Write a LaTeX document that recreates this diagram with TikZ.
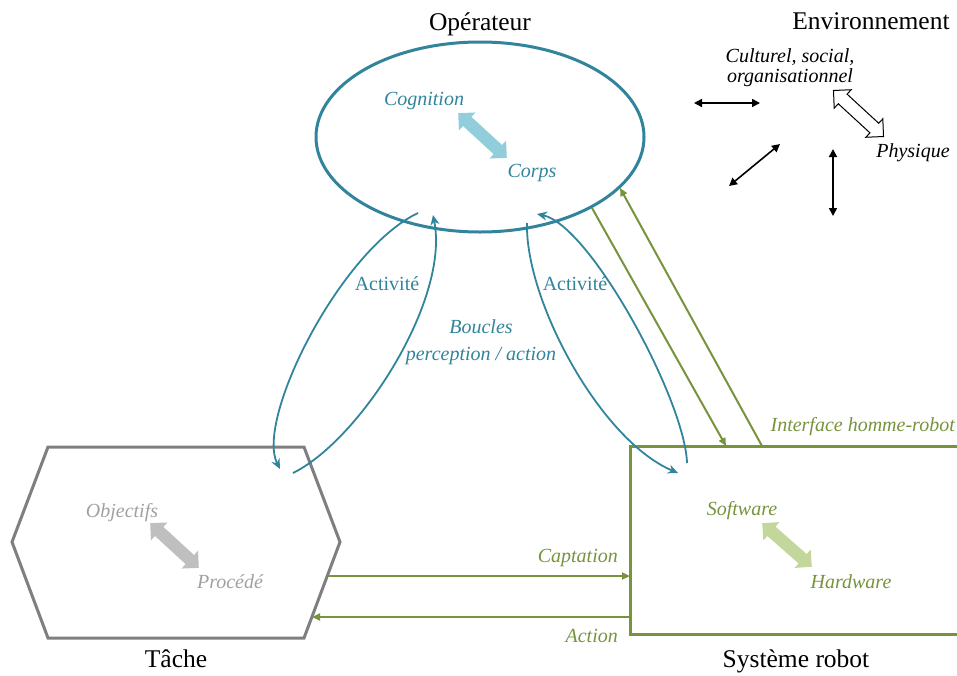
\documentclass[tikz,border=0pt]{standalone}
\usepackage{fontspec}
\setmainfont{Liberation Serif}
\usetikzlibrary{shapes.geometric,shapes.arrows,arrows.meta}
\definecolor{opteal}{HTML}{31849B}
\definecolor{oplight}{HTML}{92CDDC}
\definecolor{robgreen}{HTML}{77933C}
\definecolor{roblight}{HTML}{C3D69B}
\definecolor{taskgrey}{HTML}{7F7F7F}
\definecolor{tasklight}{HTML}{BFBFBF}
\definecolor{tasktext}{HTML}{A0A0A0}
\begin{document}
\begin{tikzpicture}[x=1pt,y=-1pt,
  bigtxt/.style={font=\fontsize{25.5}{28}\selectfont, inner sep=0, anchor=base},
  smalltxt/.style={font=\fontsize{20}{23}\selectfont, inner sep=0, anchor=base},
  ittxt/.style={smalltxt, font=\fontsize{20}{23}\selectfont\itshape},
  fatarrow/.style={double arrow, inner xsep=0pt, inner ysep=6pt, double arrow head extend=6pt, minimum height=66pt, rotate=-42.6},
  loopline/.style={opteal, line width=1.8pt, -{Stealth[length=10pt,width=9pt]}},
  gline/.style={robgreen, line width=2pt, -{Triangle[length=8pt,width=7pt]}},
  bline/.style={black, line width=1.6pt, {Triangle[length=8pt,width=8pt]}-{Triangle[length=8pt,width=8pt]}},
]
\useasboundingbox (0,0) rectangle (957,675);

% ---------- Operateur ----------
\node[ellipse, draw=opteal, line width=3pt, minimum width=328pt, minimum height=190pt, inner sep=0] (op) at (480,137) {};
\node[bigtxt] (optitle) at (480,30) {Opérateur};
\node[ittxt, text=opteal] (cog) at (424,105) {Cognition};
\node[ittxt, text=opteal] (corps) at (532,177) {Corps};
\node[fatarrow, fill=oplight] (cogarr) at (482.5,135.5) {};

% ---------- Tache ----------
\coordinate (h1) at (48,447);
\coordinate (h2) at (304,447);
\coordinate (h3) at (340,542);
\coordinate (h4) at (304,638);
\coordinate (h5) at (48,638);
\coordinate (h6) at (12,542);
\draw[taskgrey, line width=3pt, line join=miter] (h1) -- (h2) -- (h3) -- (h4) -- (h5) -- (h6) -- cycle;
\node[bigtxt] (tachetitle) at (176,667) {Tâche};
\node[ittxt, text=tasktext] (obj) at (122,517) {Objectifs};
\node[ittxt, text=tasktext] (proc) at (230,588) {Procédé};
\node[fatarrow, fill=tasklight] (objarr) at (174.5,545.5) {};

% ---------- Systeme robot ----------
\coordinate (r1) at (965,446);
\coordinate (r2) at (630,446);
\coordinate (r3) at (630,634);
\coordinate (r4) at (965,634);
\draw[robgreen, line width=3pt, line join=miter] (r1) -- (r2) -- (r3) -- (r4);
\node[bigtxt] (robtitle) at (796,667) {Système robot};
\node[ittxt, text=robgreen] (soft) at (742,515) {Software};
\node[ittxt, text=robgreen] (hard) at (851,588) {Hardware};
\node[fatarrow, fill=roblight, rotate=1.3] (softarr) at (787,545) {};
\node[ittxt, text=robgreen, anchor=base east] (ihr) at (955,431) {Interface homme-robot};

% ---------- Captation / Action ----------
\coordinate (capS) at (327.5,576);
\coordinate (capE) at (630,576);
\coordinate (actS) at (630,617);
\coordinate (actE) at (312,617);
\draw[gline] (capS) -- (capE);
\draw[gline] (actS) -- (actE);
\node[ittxt, text=robgreen, anchor=base east] (captxt) at (618,562) {Captation};
\node[ittxt, text=robgreen, anchor=base east] (acttxt) at (618,642) {Action};

% ---------- Interface lines ----------
\coordinate (if1s) at (592,208);
\coordinate (if1e) at (726,446);
\coordinate (if2s) at (762,446);
\coordinate (if2e) at (620,188);
\draw[gline] (if1s) -- (if1e);
\draw[gline] (if2s) -- (if2e);

% ---------- Activity loops ----------
\coordinate (la1) at (418,213);
\coordinate (la2) at (280,469);
\coordinate (lb1) at (293,473);
\coordinate (lb2) at (433,215);
\coordinate (rc1) at (687,463);
\coordinate (rc2) at (537,214);
\coordinate (rd1) at (527,223);
\coordinate (rd2) at (678,473);
\draw[loopline] (la1) .. controls (340,250) and (255,420) .. (la2);
\draw[loopline] (lb1) .. controls (360,440) and (450,300) .. (lb2);
\draw[loopline] (rc1) .. controls (685,400) and (590,225) .. (rc2);
\draw[loopline] (rd1) .. controls (525,300) and (600,440) .. (rd2);
\node[smalltxt, text=opteal] (act1) at (387,290) {Activité};
\node[smalltxt, text=opteal] (act2) at (575,290) {Activité};
\node[ittxt, text=opteal] (boucles1) at (481,333) {Boucles};
\node[ittxt, text=opteal] (boucles2) at (481,360) {perception / action};

% ---------- Environnement ----------
\node[bigtxt] (envtitle) at (871,29) {Environnement};
\node[ittxt] (cult1) at (790,62) {Culturel, social,};
\node[ittxt] (cult2) at (790,82) {organisationnel};
\node[ittxt] (phys) at (913,157) {Physique};
\node[fatarrow, draw=black, fill=white, line width=1pt, minimum height=68pt] (envarr) at (858.5,113.5) {};
\coordinate (eh1) at (694,103);
\coordinate (eh2) at (760,103);
\coordinate (ed1) at (729,186);
\coordinate (ed2) at (780,144);
\coordinate (ev1) at (833,149);
\coordinate (ev2) at (833,216);
\draw[bline] (eh1) -- (eh2);
\draw[bline] (ed1) -- (ed2);
\draw[bline] (ev1) -- (ev2);
\end{tikzpicture}
\end{document}
